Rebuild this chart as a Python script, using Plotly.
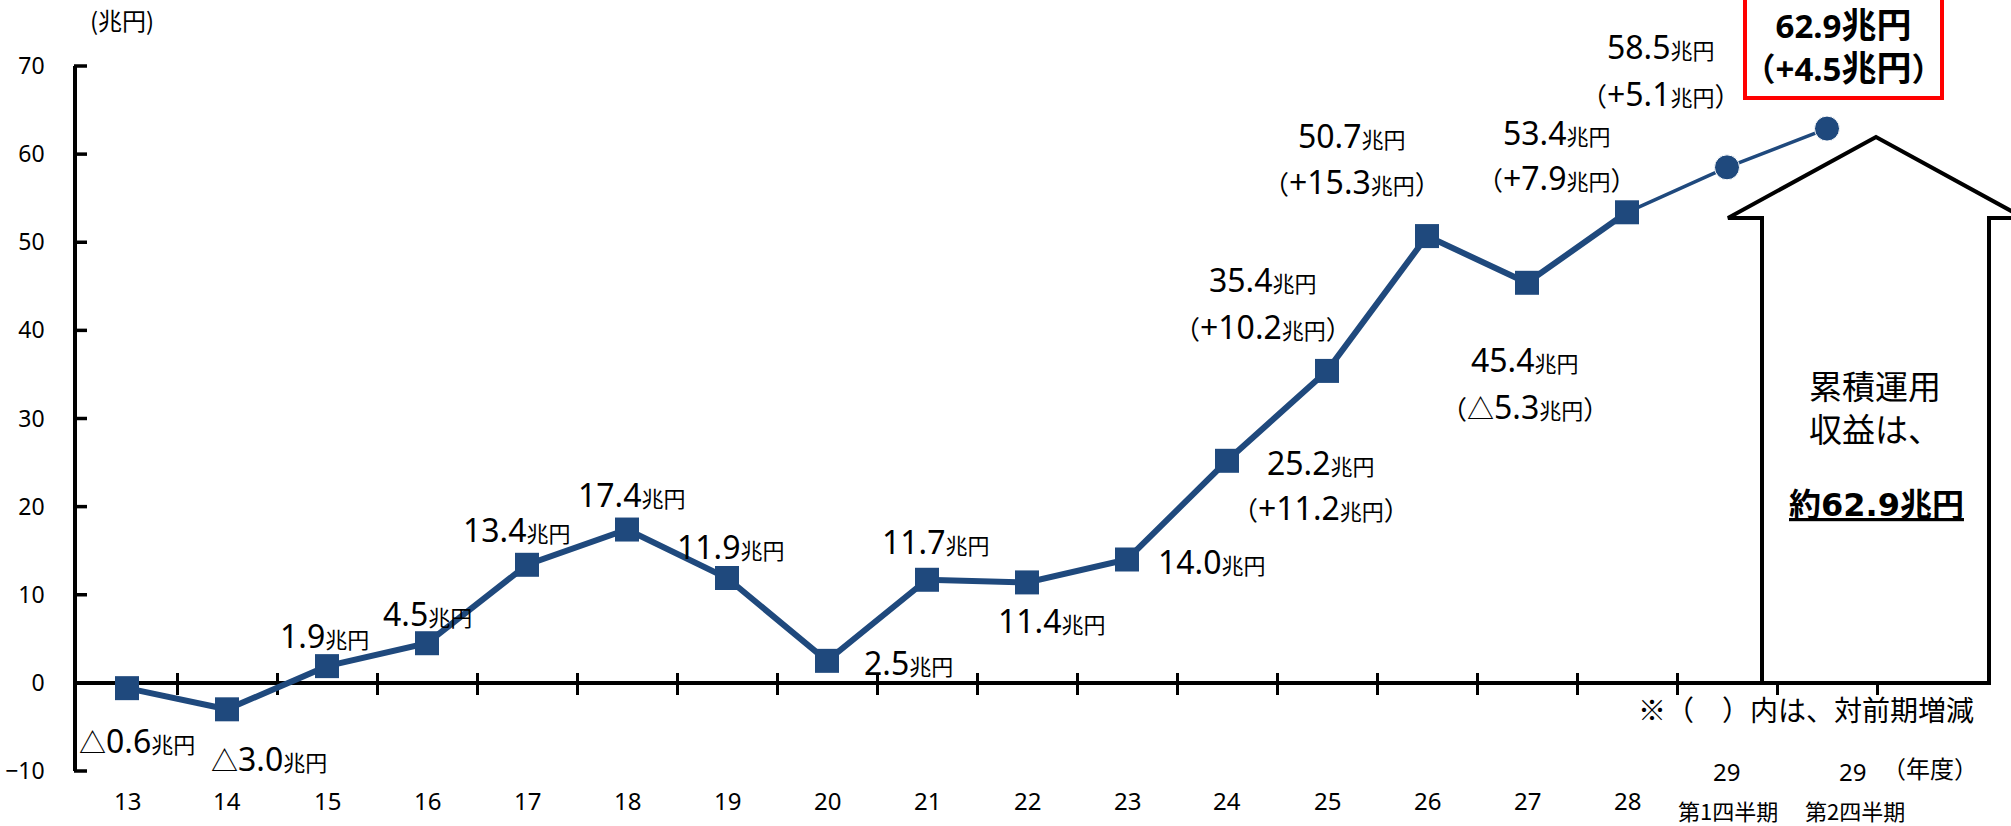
import plotly.graph_objects as go

# ---- data -------------------------------------------------------------
fiscal_years = ["13", "14", "15", "16", "17", "18", "19", "20", "21", "22",
                "23", "24", "25", "26", "27", "28", "29", "29"]
quarters = [""] * 16 + ["第1四半期", "第2四半期"]
cumulative_return = [-0.6, -3.0, 1.9, 4.5, 13.4, 17.4, 11.9, 2.5, 11.7, 11.4,
                     14.0, 25.2, 35.4, 50.7, 45.4, 53.4, 58.5, 62.9]
change_vs_prior = [None] * 11 + [11.2, 10.2, 15.3, -5.3, 7.9, 5.1, 4.5]
y_ticks = [-10, 0, 10, 20, 30, 40, 50, 60, 70]
n_annual = 16  # fiscal years 13..28; the rest are quarterly points

# ---- geometry / style -------------------------------------------------
W, H = 2011, 826
ML, MR, MT, MB = 77, 21, 66, 55
PW, PH = W - ML - MR, H - MT - MB
X_RANGE = [-0.5, 18.63]
Y_RANGE = [-10, 70]
BLUE = "#1F497D"
FONT = "Noto Sans, Noto Sans CJK JP"
CJK = "Noto Sans CJK JP"

# label placement (pixels) relative to each point:
# (right shift, up shift of amount line, up shift of change line)
label_offsets = [(10, -52, None), (42, -49, None), (-3, 31, None),
                 (0, 30, None), (-10, 35, None), (5, 35, None),
                 (4, 32, None), (81, -2, None), (9, 38, None),
                 (25, -38, None), (85, -2, None), (94, -2, -47),
                 (-64, 91, 44), (-75, 101, 55), (-2, -77, -124),
                 (-70, 80, 35), (-66, 121, 74), (16, 83, None)]


def px_x(px):
    return (px - ML) / PW


def px_y(py):
    return (H - MB - py) / PH


def val_y(v):
    return (v - Y_RANGE[0]) / (Y_RANGE[1] - Y_RANGE[0])


def amount(v, size=32, unit=22):
    mark = '<span style="font-size:27px">△</span>' if v < 0 else ""
    return (f'{mark}<span style="font-size:{size}px">{abs(v):.1f}</span>'
            f'<span style="font-size:{unit}px">兆円</span>')


def delta(v, size=32, unit=22, par=26):
    sign = '<span style="font-size:27px">△</span>' if v < 0 else "+"
    return (f'<span style="font-size:{par}px">（</span>'
            f'<span style="font-size:{size}px">{sign}{abs(v):.1f}</span>'
            f'<span style="font-size:{unit}px">兆円</span>'
            f'<span style="font-size:{par}px">）</span>')


def note(x, y, text, size, family=CJK, **kw):
    return dict(x=px_x(x), y=px_y(y), xref="paper", yref="paper", text=text,
                showarrow=False, xanchor="center", yanchor="middle",
                font=dict(family=family, size=size, color="black"), **kw)


xs = list(range(len(cumulative_return)))
fig = go.Figure()

# quarterly segment (thin line, round markers)
q_idx = xs[n_annual - 1:]
fig.add_trace(go.Scatter(
    x=q_idx, y=cumulative_return[n_annual - 1:], mode="lines+markers",
    line=dict(color=BLUE, width=3.5),
    marker=dict(symbol="circle", color=BLUE, opacity=1,
                size=[0] + [25] * (len(q_idx) - 1)),
    hoverinfo="skip", showlegend=False))

# annual segment (thick line, square markers)
fig.add_trace(go.Scatter(
    x=xs[:n_annual], y=cumulative_return[:n_annual], mode="lines+markers",
    line=dict(color=BLUE, width=6),
    marker=dict(symbol="square", color=BLUE, size=24, opacity=1),
    hoverinfo="skip", showlegend=False))

# empty traces so that the two overlay axes (the zero axis line with
# ticks crossing it) are drawn
for ax_id in ("x2", "x3"):
    fig.add_trace(go.Scatter(x=X_RANGE, y=[0, 0], xaxis=ax_id, yaxis="y",
                             mode="markers", marker=dict(size=0, opacity=0),
                             hoverinfo="skip", showlegend=False))

annotations = []

# value labels
for i, v in enumerate(cumulative_return):
    dx, dy1, dy2 = label_offsets[i]
    common = dict(x=i, y=v, xref="x", yref="y", showarrow=False,
                  xanchor="center", yanchor="middle", xshift=dx)
    if i == len(cumulative_return) - 1:
        txt = ("<b>" + amount(v, 33, 35) + "<br>" +
               delta(change_vs_prior[i], 33, 35, 32) + "</b>")
        annotations.append(dict(
            common, text=txt, yshift=dy1,
            font=dict(family=FONT, size=33, color="black"),
            bordercolor="#FF0000", borderwidth=4, borderpad=4,
            bgcolor="white", width=185, height=92, align="center"))
        continue
    annotations.append(dict(common, text=amount(v), yshift=dy1,
                            font=dict(family=FONT, size=32, color="black")))
    if change_vs_prior[i] is not None:
        annotations.append(dict(common, text=delta(change_vs_prior[i]),
                                yshift=dy2,
                                font=dict(family=FONT, size=32,
                                          color="black")))

# category labels under the axis
for i, (fy, q) in enumerate(zip(fiscal_years, quarters)):
    base = dict(x=i, y=0, xref="x", yref="paper", showarrow=False,
                xanchor="center", yanchor="middle")
    if q:
        first = q.startswith("第1")
        annotations.append(dict(base, text=fy, xshift=-1 if first else 25,
                                yshift=0,
                                font=dict(family=FONT, size=24, color="black")))
        annotations.append(dict(base, text=q, xshift=1 if first else 28,
                                yshift=-39,
                                font=dict(family=CJK, size=22, color="black")))
    else:
        annotations.append(dict(base, text=fy, yshift=-29,
                                font=dict(family=FONT, size=24, color="black")))

# units and notes
annotations += [
    note(122, 20, "(兆円)", 24),
    note(1806, 709, "※（　）内は、対前期増減", 28),
    note(1930, 767, "（年度）", 24),
    note(1875, 406, "累積運用<br>収益は、", 33, align="center"),
    note(1876, 505, "<b><u>約62.9兆円</u></b>", 32,
         family="DejaVu Sans, Noto Sans CJK JP"),
]

# up arrow summarising the cumulative return
bl, br, hl, hr, ax = 1762, 1989, 1728, 2024, 1876
top, base_y, bottom = 137, 218, 683
path = (f"M {px_x(bl)},{px_y(bottom)} L {px_x(bl)},{px_y(base_y)} "
        f"L {px_x(hl)},{px_y(base_y)} L {px_x(ax)},{px_y(top)} "
        f"L {px_x(hr)},{px_y(base_y)} L {px_x(br)},{px_y(base_y)} "
        f"L {px_x(br)},{px_y(bottom)} Z")
shapes = [dict(type="path", path=path, xref="paper", yref="paper",
               fillcolor="white", line=dict(color="black", width=4),
               layer="above")]

# y-axis ticks pointing into the plot
for v in y_ticks:
    shapes.append(dict(type="line", xref="paper", yref="paper",
                       x0=px_x(ML - 3), x1=px_x(ML + 10),
                       y0=val_y(v), y1=val_y(v),
                       line=dict(color="black", width=3.5), layer="above"))

boundaries = [i + 0.5 for i in xs]
cross_axis = dict(overlaying="x", anchor="free", position=val_y(0),
                  range=X_RANGE, tickvals=boundaries, showticklabels=False,
                  ticklen=10, tickwidth=3, tickcolor="black", showgrid=False,
                  zeroline=False, layer="below traces", automargin=False)

fig.update_layout(
    width=W, height=H, paper_bgcolor="white", plot_bgcolor="white",
    margin=dict(l=ML, r=MR, t=MT, b=MB, pad=0, autoexpand=False),
    font=dict(family=FONT, color="black"),
    xaxis=dict(range=X_RANGE, showline=False, showticklabels=False,
               ticks="", showgrid=False, zeroline=False, automargin=False),
    xaxis2=dict(cross_axis, showline=True, linecolor="black", linewidth=3.5,
                ticks="outside"),
    xaxis3=dict(cross_axis, showline=False, ticks="inside"),
    yaxis=dict(range=Y_RANGE, tickvals=y_ticks, showline=True,
               linecolor="black", linewidth=3.5, ticks="", showgrid=False,
               zeroline=False, automargin=False, ticklabelstandoff=24,
               tickfont=dict(family="Noto Sans", size=23, color="black")),
    annotations=annotations, shapes=shapes, showlegend=False,
)

fig.write_html("out.html")
